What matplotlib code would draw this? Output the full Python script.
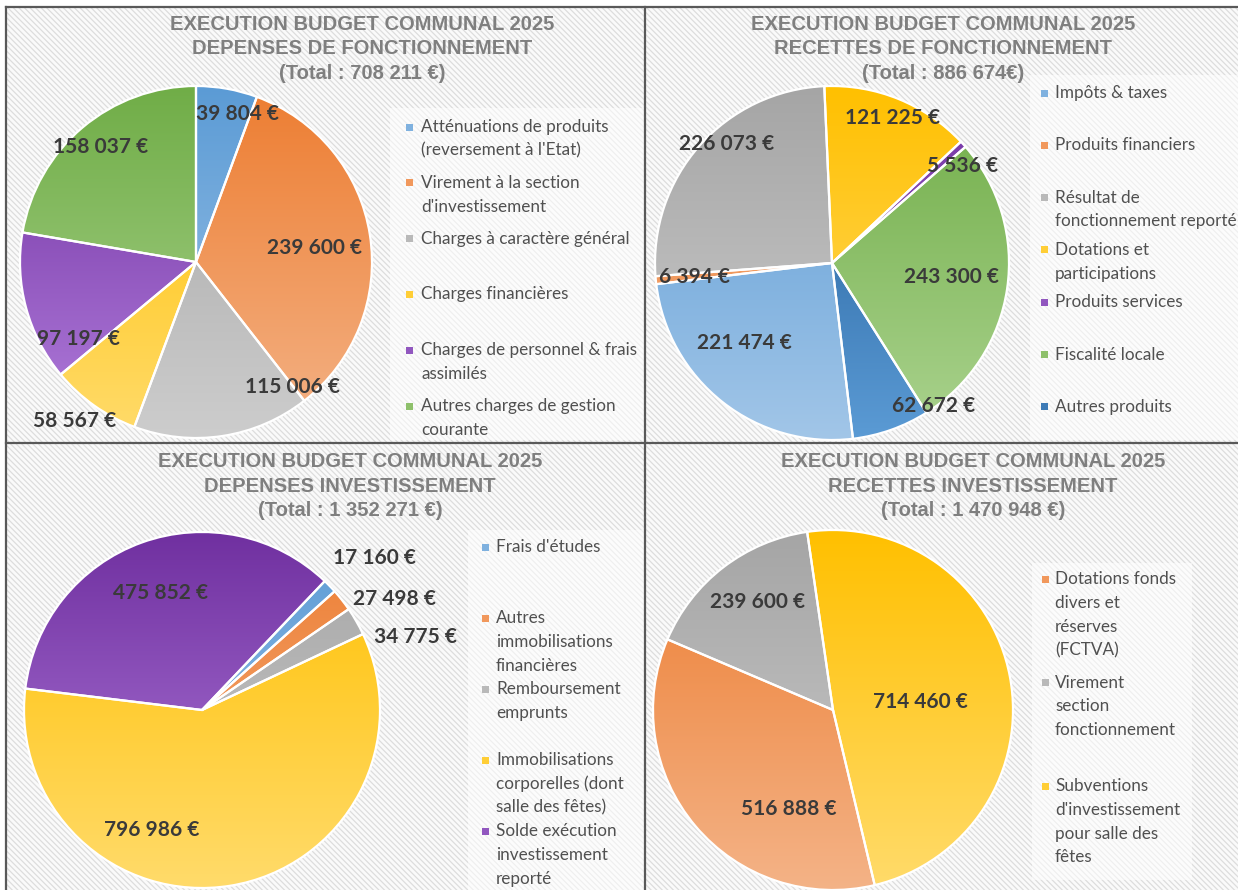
import numpy as np
import matplotlib
matplotlib.use("Agg")
import matplotlib.pyplot as plt
from matplotlib.colors import LinearSegmentedColormap
from matplotlib.patches import Rectangle
from matplotlib.lines import Line2D

# Données : exécution budget communal 2025
dep_fonct_labels = ["Atténuations de produits\n(reversement à l'Etat)",
                    "Virement à la section\nd'investissement",
                    "Charges à caractère général",
                    "Charges financières",
                    "Charges de personnel & frais\nassimilés",
                    "Autres charges de gestion\ncourante"]
dep_fonct_values = [39804, 239600, 115006, 58567, 97197, 158037]

rec_fonct_labels = ["Impôts & taxes",
                    "Produits financiers",
                    "Résultat de\nfonctionnement reporté",
                    "Dotations et\nparticipations",
                    "Produits services",
                    "Fiscalité locale",
                    "Autres produits"]
rec_fonct_values = [221474, 6394, 226073, 121225, 5536, 243300, 62672]

dep_invest_labels = ["Frais d'études",
                     "Autres\nimmobilisations\nfinancières",
                     "Remboursement\nemprunts",
                     "Immobilisations\ncorporelles (dont\nsalle des fêtes)",
                     "Solde exécution\ninvestissement\nreporté"]
dep_invest_values = [17160, 27498, 34775, 796986, 475852]

rec_invest_labels = ["Dotations fonds\ndivers et\nréserves\n(FCTVA)",
                     "Virement\nsection\nfonctionnement",
                     "Subventions\nd'investissement\npour salle des\nfêtes"]
rec_invest_values = [516888, 239600, 714460]

titles = ["EXECUTION BUDGET COMMUNAL 2025\nDEPENSES DE FONCTIONNEMENT\n(Total : 708 211 €)",
          "EXECUTION BUDGET COMMUNAL 2025\nRECETTES DE FONCTIONNEMENT\n(Total : 886 674€)",
          "EXECUTION BUDGET COMMUNAL 2025\nDEPENSES INVESTISSEMENT\n(Total : 1 352 271 €)",
          "EXECUTION BUDGET COMMUNAL 2025\nRECETTES INVESTISSEMENT\n(Total : 1 470 948 €)"]

# couleurs (haut -> bas du dégradé)
grad = {
    "bleu": ("#5B9BD5", "#A2C6E8"),
    "orange": ("#ED7D31", "#F4B387"),
    "gris": ("#A5A5A5", "#CDCDCD"),
    "jaune": ("#FFC000", "#FFDB6B"),
    "violet": ("#7030A0", "#B27EDD"),
    "vert": ("#70AD47", "#ABD38F"),
    "bleu_fonce": ("#1F5A96", "#5B9BD5"),
}

plt.rcParams["hatch.linewidth"] = 0.9

W, H = 1238, 890
fig = plt.figure(figsize=(12.38, 8.90), dpi=100)
bg = fig.add_axes([0, 0, 1, 1])
bg.set_xlim(0, W)
bg.set_ylim(H, 0)
bg.axis("off")

# fond hachuré
bg.add_patch(Rectangle((6, 7), W, H, facecolor="#FAFAFA", edgecolor="#DDDDDD",
                       hatch="\\" * 6, lw=0, zorder=0))

# zones de légende
for (x0, y0, x1, y1) in [(390, 108, 645, 440), (1030, 75, 1238, 440),
                         (468, 530, 645, 890), (1032, 563, 1192, 880)]:
    bg.add_patch(Rectangle((x0, y0), x1 - x0, y1 - y0, facecolor="white",
                           alpha=0.55, lw=0, zorder=1))

# séparateurs
for xs, ys in [([6, W], [7, 7]), ([6, 6], [7, H]), ([6, W], [443, 443]), ([645, 645], [7, H])]:
    bg.add_line(Line2D(xs, ys, color="#595959", lw=1.6, zorder=3))

TITLE_FONT = "Liberation Sans"
LABEL_FONT = "Lato"


def euro(v):
    return f"{v:,}".replace(",", " ") + " €"


def draw_pie(values, cols, cx, cy, r, first_angle, shifts, rads):
    pad = 1.4
    ax = fig.add_axes([(cx - pad * r) / W, 1 - (cy + pad * r) / H,
                       2 * pad * r / W, 2 * pad * r / H])
    wedges, _ = ax.pie(values, startangle=90 - first_angle, counterclock=False,
                       radius=1, wedgeprops=dict(edgecolor="white", linewidth=1.6))
    g = np.linspace(0, 1, 256).reshape(-1, 1)
    for w, c in zip(wedges, cols):
        cmap = LinearSegmentedColormap.from_list("g", list(grad[c]))
        im = ax.imshow(g, cmap=cmap, extent=(-1, 1, -1, 1), aspect="auto",
                       origin="upper", zorder=0.5, interpolation="bilinear")
        im.set_clip_path(w)
        w.set_facecolor("none")
    for w, v, sh, rr in zip(wedges, values, shifts, rads):
        mid = np.deg2rad((w.theta1 + w.theta2) / 2 - sh)
        ax.text(rr * np.cos(mid), rr * np.sin(mid), euro(v), ha="center", va="center",
                fontsize=15, fontweight="bold", color="#3A3A3A", family=LABEL_FONT,
                zorder=5)
    ax.set_xlim(-pad, pad)
    ax.set_ylim(-pad, pad)
    ax.set_aspect("auto")
    ax.axis("off")
    return ax


def draw_legend(labels, cols, mx, tx, y0, step):
    for i, (lab, c) in enumerate(zip(labels, cols)):
        y = y0 + i * step
        top, bot = grad[c]
        mc = LinearSegmentedColormap.from_list("m", [top, bot])(0.5)
        bg.add_patch(Rectangle((mx, y - 3.5), 7, 7, color=mc, lw=0, zorder=2))
        for k, line in enumerate(lab.split("\n")):
            bg.text(tx, y + k * 23.8, line, ha="left", va="center", fontsize=12.3,
                    color="#505050", family=LABEL_FONT, zorder=2)


def draw_title(txt, cx, cy):
    bg.text(cx, cy, txt, ha="center", va="center", fontsize=14.5, fontweight="bold",
            color="#7F7F7F", family=TITLE_FONT, linespacing=1.38, zorder=2)


# 1. Dépenses de fonctionnement
c1 = ["bleu", "orange", "gris", "jaune", "violet", "vert"]
draw_title(titles[0], 362, 49)
draw_pie(dep_fonct_values, c1, 196, 262, 176, 0,
         [5.4, 2.2, -28.9, 1.9, -18.3, 0.3], [0.87, 0.68, 0.90, 1.135, 0.80, 0.85])
draw_legend(dep_fonct_labels, c1, 406, 421, 127, 55.8)

# 2. Recettes de fonctionnement
c2 = ["bleu", "orange", "gris", "jaune", "violet", "vert", "bleu_fonce"]
draw_title(titles[1], 943, 49)
draw_pie(rec_fonct_values, c2, 832, 263, 177, 173.2,
         [9.5, -0.2, 6.9, 0.6, 5.4, -1.7, -16], [0.67, 0.78, 0.90, 0.89, 0.92, 0.68, 0.99])
draw_legend(rec_fonct_labels, c2, 1041, 1055, 93, 52.3)

# 3. Dépenses d'investissement
c3 = ["bleu", "orange", "gris", "jaune", "violet"]
draw_title(titles[2], 350, 486)
draw_pie(dep_invest_values, c3, 202, 710, 178, 43.6,
         [2.8, 8.1, 11, 32, 0.1], [1.29, 1.25, 1.27, 0.73, 0.70])
draw_legend(dep_invest_labels, c3, 482, 496, 547, 71)

# 4. Recettes d'investissement
c4 = ["orange", "gris", "jaune"]
draw_title(titles[3], 973, 486)
draw_pie(rec_invest_values, c4, 833, 710, 180, 166.6,
         [-25.7, 2.5, 5.5], [0.60, 0.73, 0.49])
draw_legend(rec_invest_labels, c4, 1042, 1055, 579, 103.5)

fig.savefig("out.png", dpi=100)
